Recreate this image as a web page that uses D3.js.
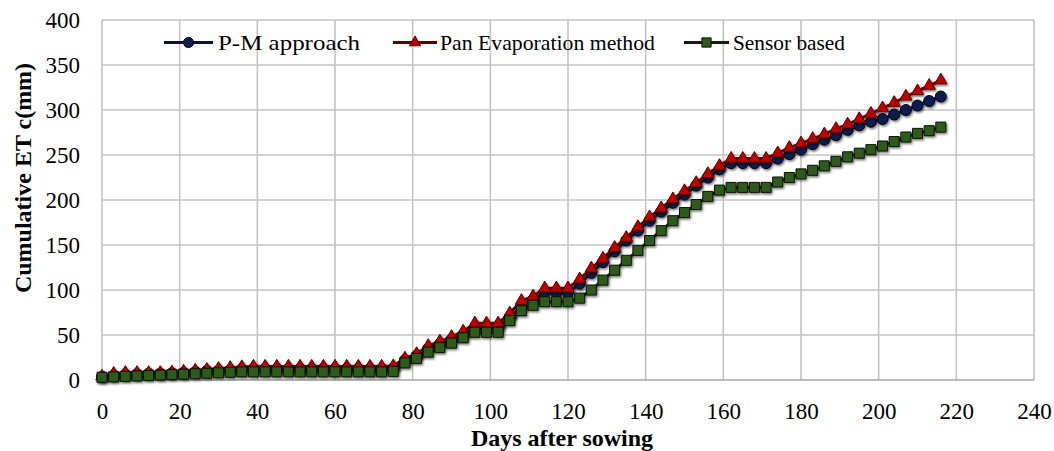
<!DOCTYPE html>
<html><head><meta charset="utf-8">
<script src="https://cdn.jsdelivr.net/npm/d3@7"></script>
<style>
html,body{margin:0;padding:0;background:#fff;}
svg{display:block;}
text{font-family:"Liberation Serif","Times New Roman",serif;fill:#000;}
</style></head>
<body><svg id="c" width="1054" height="451"></svg>
<script>
const days = [0,3,6,9,12,15,18,21,24,27,30,33,36,39,42,45,48,51,54,57,60,63,66,69,72,75,
  78,81,84,87,90,93,96,99,102,105,108,111,114,117,120,123,126,129,132,135,138,141,144,147,
  150,153,156,159,162,165,168,171,174,177,180,183,186,189,192,195,198,201,204,207,210,213,216];
const pmApproach = [3.5,5,6,6.5,7,7,7.5,8,9,10,10.5,11,12,12.5,12.5,12.5,12.5,12.5,12.5,12.5,12.5,12.5,12.5,12.5,12.5,13,
  22,27,35,40,45,50,58,58,58,70,81,89,97,97,97,107,119,131,143,155,166,177,187,197,
  206,216,225,234,241,241,241,241,246,251,256,262,267,272,278,283,287,290,295,300,305,310,315];
const panEvaporation = [4,7,8,8,8,8,8.5,9.5,10.5,11.5,12.5,13.5,14.5,15,15,15,15,15,15,15,15,15,15,15,15,15.5,
  24,29,38,43,48,54,63,63,63,74,88,93,102,102,102,112,124,135,147,158,170,181,191,201,
  210,219,229,238,246,246,246,246,252,258,263,268,273,279,284,290,296,302,308,315,321,327,333];
const sensorBased = [3,3.5,4,4.5,5,5.5,6,6.5,7,7.5,8,8.5,9,9,9,9,9,9,9,9,9,9,9,9,9,9.5,
  19,24,31,36,41,47,53,53,53,66,77,83,87,87,87,91,100,111,122,133,144,155,166,177,
  186,195,204,211,214,214,214,214,220,225,229,233,238,243,248,252,256,260,265,270,274,277,281];
const xTicks = [0,20,40,60,80,100,120,140,160,180,200,220,240];
const yTicks = [0,50,100,150,200,250,300,350,400];
const seriesNames = ["P-M approach","Pan Evaporation method","Sensor based"];

const svg = d3.select("#c");
const L = 102, R = 1034, T = 20, B = 380;
const x = d3.scaleLinear().domain([0,240]).range([L,R]);
const y = d3.scaleLinear().domain([0,400]).range([B,T]);

const defs = svg.append("defs");
const f = defs.append("filter").attr("id","sh").attr("x","-50%").attr("y","-50%").attr("width","200%").attr("height","200%");
f.append("feDropShadow").attr("dx",1.2).attr("dy",1.6).attr("stdDeviation",1).attr("flood-color","#000").attr("flood-opacity",0.55);

// gridlines
svg.append("g").selectAll("line").data(yTicks.filter(d=>d>0)).join("line")
  .attr("x1",L).attr("x2",R).attr("y1",d=>y(d)).attr("y2",d=>y(d))
  .attr("stroke","#c3c3c3").attr("stroke-width",1.6);
svg.append("g").selectAll("line").data(xTicks).join("line")
  .attr("x1",d=>x(d)).attr("x2",d=>x(d)).attr("y1",T).attr("y2",B)
  .attr("stroke","#c3c3c3").attr("stroke-width",1.6);
svg.append("line").attr("x1",L).attr("x2",R).attr("y1",B).attr("y2",B)
  .attr("stroke","#a6a6a6").attr("stroke-width",1.6);

// axes labels via d3 axes
const gx = svg.append("g").attr("transform",`translate(0,${B})`)
  .call(d3.axisBottom(x).tickValues(xTicks).tickSize(0).tickPadding(23).tickFormat(d3.format("d")));
gx.select(".domain").remove();
gx.selectAll("text").attr("font-size",23).attr("font-family","Liberation Serif").attr("fill","#000");
const gy = svg.append("g").attr("transform",`translate(${L},0)`)
  .call(d3.axisLeft(y).tickValues(yTicks).tickSize(0).tickPadding(22).tickFormat(d3.format("d")));
gy.select(".domain").remove();
gy.selectAll("text").attr("font-size",23).attr("font-family","Liberation Serif").attr("fill","#000");

// titles
svg.append("text").attr("x",562).attr("y",446).attr("text-anchor","middle")
  .attr("font-size",24).attr("font-weight","bold").text("Days after sowing");
svg.append("text").attr("transform","translate(31,178) rotate(-90)").attr("text-anchor","middle")
  .attr("font-size",24).attr("font-weight","bold").text("Cumulative ET c(mm)");

const styles = [
  {data:pmApproach, line:"#0d1230", fill:"#0f1f4f", stroke:"#000010", sym:d3.symbolCircle, size:95},
  {data:panEvaporation, line:"#5a0000", fill:"#c00000", stroke:"#5a0000", sym:d3.symbolTriangle, size:66},
  {data:sensorBased, line:"#14200c", fill:"#2f5a1e", stroke:"#0a1206", sym:d3.symbolSquare, size:100}
];

styles.forEach(s=>{
  const g = svg.append("g").attr("filter","url(#sh)");
  const pts = days.map((d,i)=>[d,s.data[i]]);
  g.append("path").datum(pts)
    .attr("d", d3.line().x(d=>x(d[0])).y(d=>y(d[1])))
    .attr("fill","none").attr("stroke",s.line).attr("stroke-width",3);
  g.selectAll("path.m").data(pts).join("path").attr("class","m")
    .attr("transform",d=>`translate(${x(d[0])},${y(d[1])})`)
    .attr("d", d3.symbol().type(s.sym).size(s.size)())
    .attr("fill",s.fill).attr("stroke",s.stroke).attr("stroke-width",1);
});

// legend
const leg = [
  {x1:164,x2:213,tx:218,w:142},
  {x1:393,x2:437,tx:440,w:215},
  {x1:684,x2:729,tx:733,w:112}
];
leg.forEach((l,i)=>{
  const s = styles[i];
  const g = svg.append("g");
  g.append("line").attr("x1",l.x1).attr("x2",l.x2).attr("y1",42.5).attr("y2",42.5)
    .attr("stroke",s.line).attr("stroke-width",3);
  g.append("path").attr("transform",`translate(${(l.x1+l.x2)/2},42.5)`)
    .attr("d", d3.symbol().type(s.sym).size(s.size*0.85)())
    .attr("fill",s.fill).attr("stroke",s.stroke).attr("stroke-width",1);
  g.append("text").attr("x",l.tx).attr("y",50).attr("font-size",22)
    .attr("textLength",l.w).attr("lengthAdjust","spacingAndGlyphs").text(seriesNames[i]);
});
</script></body></html>
